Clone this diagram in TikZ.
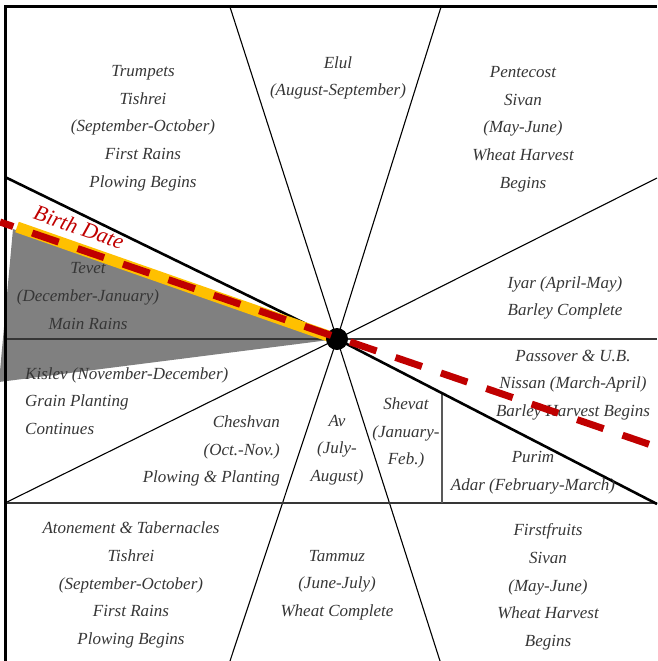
\documentclass[tikz,border=0pt]{standalone}
\usepackage{fontspec}
\setmainfont{Liberation Serif}
\usepackage{xcolor}
\definecolor{rojo}{HTML}{C00000}
\definecolor{amarillo}{HTML}{FFC000}
\definecolor{sombra}{HTML}{808080}
\definecolor{tinta}{HTML}{363636}
\definecolor{raya}{HTML}{595959}
\begin{document}
\begin{tikzpicture}[x=1pt, y=-1pt, font=\fontsize{17}{27.7}\selectfont\itshape,
      m/.style={text=tinta, align=center, inner sep=0pt},
      spoke/.style={line width=1.1pt},
      heavy/.style={line width=2.6pt},
      birth/.style={rojo, line width=7pt, dash pattern=on 28pt off 20pt, dash phase=14pt}]
    \useasboundingbox (0,0) rectangle (657,661);
    \coordinate (hub) at (337,339);
    \coordinate (tl) at (5,7);   \coordinate (tr) at (657,7);
    \coordinate (bl) at (5,661);
    \coordinate (t1) at (230,7); \coordinate (t2) at (441,7);
    \coordinate (b1) at (230,661); \coordinate (b2) at (440,661);
    \coordinate (r1) at (657,178); \coordinate (l1) at (5,503);
    \coordinate (lm) at (5,339); \coordinate (rm) at (657,339);
    \coordinate (rb) at (657,503);
    \coordinate (lh) at (5,177); \coordinate (rh) at (657,504);
    \coordinate (vt) at (442,394); \coordinate (vb) at (442,503);
    \coordinate (bs) at (0,222); \coordinate (be) at (657,447);
    \fill[sombra] (hub) -- (13,229) -- (-1,382) -- cycle;
    \draw[spoke] (hub) -- (t1); \draw[spoke] (hub) -- (t2);
    \draw[spoke] (hub) -- (r1); \draw[spoke] (hub) -- (l1);
    \draw[spoke] (hub) -- (b1); \draw[spoke] (hub) -- (b2);
    \draw[spoke, draw=tinta] (lm) -- (rm);
    \draw[spoke, draw=tinta] (l1) -- (rb);
    \draw[line width=1.5pt, raya] (vt) -- (vb);
    \draw[heavy] (lh) -- (hub); \draw[heavy] (hub) -- (rh);
    \draw[line width=3pt] (bl) -- (tl) -- (tr);
    \node[m] (trumpets) at (143,128) {Trumpets\\Tishrei\\(September-October)\\First Rains\\Plowing Begins};
    \node[m] (elul) at (338,78) {Elul\\(August-September)};
    \node[m] (pentecost) at (523,129) {Pentecost\\Sivan\\(May-June)\\Wheat Harvest\\Begins};
    \node[m] (iyar) at (565,298) {Iyar (April-May)\\Barley Complete};
    \node[m] (tevet) at (88,296) {Tevet\\(December-January)\\Main Rains};
    \node[m, align=left, anchor=west] (kislev) at (25,401) {Kislev (November-December)\\Grain Planting\\Continues};
    \node[m, align=right, anchor=east] (cheshvan) at (280,451) {Cheshvan\\(Oct.-Nov.)\hspace{22pt}\\Plowing \& Planting\hspace{13pt}};
    \node[m] (av) at (337,450) {Av\\(July-\\August)};
    \node[m] (shevat) at (406,433) {Shevat\\(January-\\Feb.)};
    \node[m] (purim) at (533,473) {Purim\hspace{66pt}\\Adar (February-March)};
    \node[m] (passover) at (573,385) {Passover \& U.B.\\Nissan (March-April)\\Barley Harvest Begins};
    \node[m] (atonement) at (131,585) {Atonement \& Tabernacles\\Tishrei\\(September-October)\\First Rains\\Plowing Begins};
    \node[m] (tammuz) at (337,585) {Tammuz\\(June-July)\\Wheat Complete};
    \node[m] (firstfruits) at (548,587) {Firstfruits\\Sivan\\(May-June)\\Wheat Harvest\\Begins};
    \draw[amarillo, line width=11pt] (17,227) -- (hub);
    \fill (hub) circle (11);
    \draw[birth] (bs) -- (be);
    \node[text=rojo, rotate=-19, font=\fontsize{22}{24}\selectfont\itshape, inner sep=0pt] (birthlbl) at (79,227) {Birth Date};
\end{tikzpicture}
\end{document}
